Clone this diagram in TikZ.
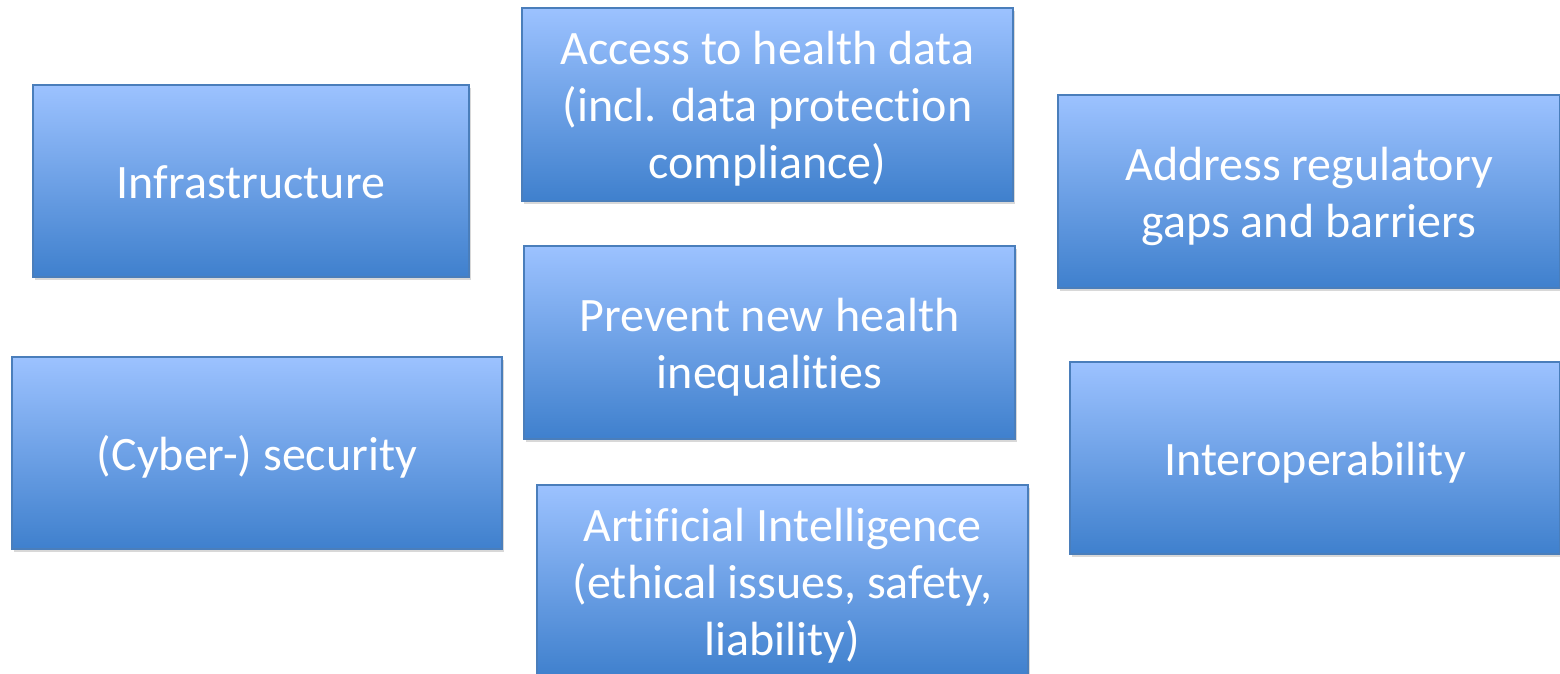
\documentclass[tikz,border=0pt]{standalone}
\usepackage{fontspec}
\setmainfont{Carlito}[Ligatures=NoCommon]
\usetikzlibrary{shadows}
\definecolor{boxtop}{HTML}{9CC2FF}
\definecolor{boxmid}{HTML}{80ADEF}
\definecolor{boxbot}{HTML}{3F80CD}
\definecolor{boxline}{HTML}{4A7EBB}
\newcommand\TopS{\rule{0pt}{48pt}}
\newcommand\BotS{\rule[-14pt]{0pt}{0pt}}
\begin{document}
\begin{tikzpicture}[x=1pt,y=-1pt,
  card/.style={draw=boxline, line width=1.2pt,
    top color=boxtop, middle color=boxmid, bottom color=boxbot,
    drop shadow={opacity=0.3, shadow xshift=2pt, shadow yshift=-3pt},
    text=white, font=\fontsize{48}{57}\selectfont, align=center,
    inner sep=0pt, rectangle}]
\fill[white] (0,0) rectangle (1560,673);
\useasboundingbox (0,0) rectangle (1560,673);
\clip (0,0) rectangle (1560,673);
\node[card, minimum width=436pt, minimum height=192pt] (infra) at (251,181) {\TopS Infrastructure\BotS};
\node[card, minimum width=491pt, minimum height=193pt] (access) at (767.5,104.5) {\TopS Access to health data\\(incl. data protection\\compliance)\BotS};
\node[card, minimum width=502pt, minimum height=193pt] (regul) at (1309,191.5) {\TopS Address regulatory\\gaps and barriers\BotS};
\node[card, minimum width=491pt, minimum height=193pt] (prevent) at (769.5,342.5) {\TopS Prevent new health\\inequalities\BotS};
\node[card, minimum width=490pt, minimum height=192pt] (cyber) at (257,453) {\TopS(Cyber-) security\BotS};
\node[card, minimum width=490pt, minimum height=192pt] (interop) at (1315,458) {\TopS Interoperability\BotS};
\node[card, minimum width=491pt, minimum height=192pt] (ai) at (782.5,581) {\TopS Artificial Intelligence\\(ethical issues, safety,\\liability)\BotS};
\end{tikzpicture}
\end{document}
